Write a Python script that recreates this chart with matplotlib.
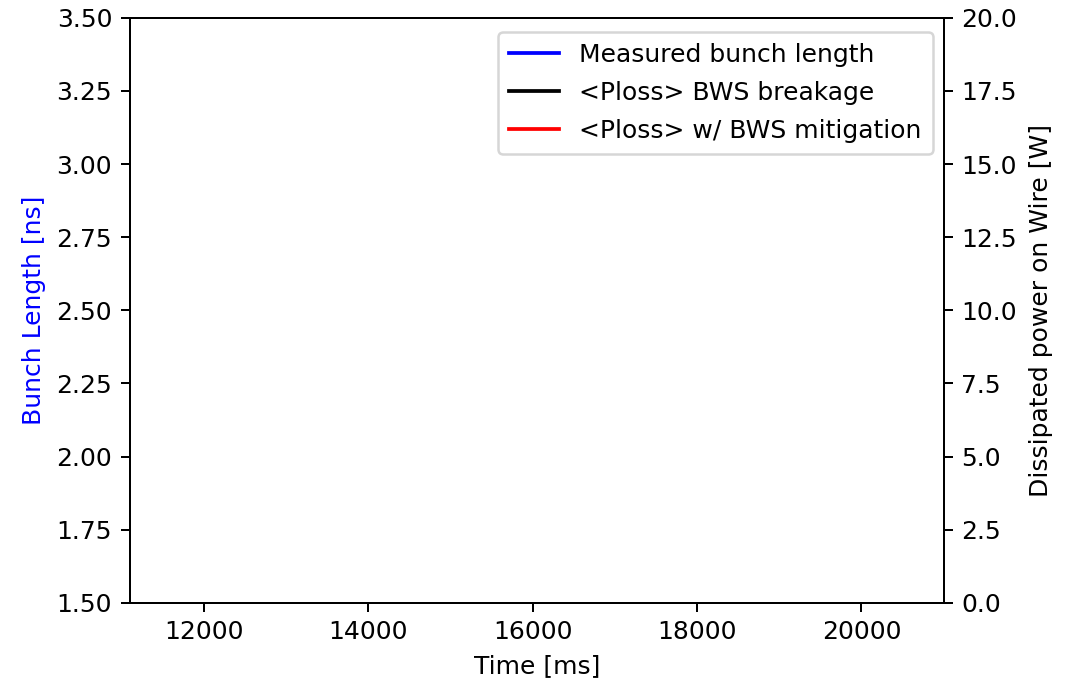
import matplotlib
matplotlib.use("Agg")
import matplotlib.pyplot as plt

# Data (the series are empty in the reference - nothing is visible in the plot area)
time_ms = []
bunch_length_ns = []
ploss_breakage_W = []
ploss_mitigation_W = []

x_limits = (11100, 21000)
left_limits = (1.5, 3.5)
right_limits = (0.0, 20.0)

DPI = 180
fig = plt.figure(figsize=(1081 / DPI, 682 / DPI), dpi=DPI)
ax = fig.add_axes([0.120, 0.116, 0.753, 0.858])
ax2 = ax.twinx()

l1, = ax.plot(time_ms, bunch_length_ns, color="blue", label="Measured bunch length")
l2, = ax2.plot(time_ms, ploss_breakage_W, color="black", label="<Ploss> BWS breakage")
l3, = ax2.plot(time_ms, ploss_mitigation_W, color="red", label="<Ploss> w/ BWS mitigation")

ax.set_xlim(*x_limits)
ax.set_ylim(*left_limits)
ax2.set_ylim(*right_limits)
ax.set_xticks([12000, 14000, 16000, 18000, 20000])

ax.set_xlabel("Time [ms]")
ax.set_ylabel("Bunch Length [ns]", color="blue")
ax2.set_ylabel("Dissipated power on Wire [W]", labelpad=5)

ax2.legend(handles=[l1, l2, l3], loc="upper right",
           bbox_to_anchor=(0.9865, 0.976), borderaxespad=0,
           labelspacing=0.56, borderpad=0.44)

fig.savefig("out.png", dpi=DPI)
